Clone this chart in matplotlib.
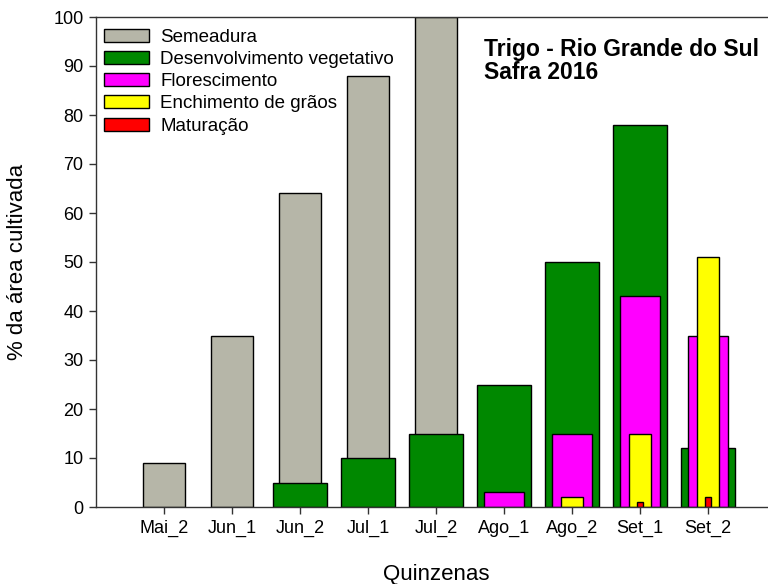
import numpy as np
import matplotlib.pyplot as plt
from matplotlib.patches import Patch

plt.rcParams['font.family'] = ['Liberation Sans', 'DejaVu Sans']

quinzenas = ["Mai_2", "Jun_1", "Jun_2", "Jul_1", "Jul_2", "Ago_1", "Ago_2", "Set_1", "Set_2"]
semeadura = [9, 35, 64, 88, 100, 0, 0, 0, 0]
desenvolvimento = [0, 0, 5, 10, 15, 25, 50, 78, 12]
florescimento = [0, 0, 0, 0, 0, 3, 15, 43, 35]
enchimento = [0, 0, 0, 0, 0, 0, 2, 15, 51]
maturacao = [0, 0, 0, 0, 0, 0, 0, 1, 2]

series = [
    ("Semeadura", semeadura, "#b6b6a8", 0.61),
    ("Desenvolvimento vegetativo", desenvolvimento, "#008800", 0.8),
    ("Florescimento", florescimento, "#ff00ff", 0.6),
    ("Enchimento de grãos", enchimento, "#ffff00", 0.33),
    ("Maturação", maturacao, "#ff0000", 0.1),
]

fig = plt.figure(figsize=(7.68, 5.84), dpi=100)
# axes runs a bit past the right edge, like the cropped original
ax = fig.add_axes([96 / 768, 77 / 584, 680 / 768, 490 / 584])

x = np.arange(1, len(quinzenas) + 1)
for label, vals, color, width in series:
    vals = np.array(vals, dtype=float)
    mask = vals > 0
    ax.bar(x[mask], vals[mask], width=width, color=color, edgecolor="black",
           linewidth=1.0, zorder=2)

ax.set_xlim(0, 10)
ax.set_ylim(0, 100)
ax.set_xticks(x)
ax.set_xticklabels(quinzenas)
ax.set_yticks(np.arange(0, 101, 10))
ax.tick_params(axis="both", direction="out", length=5, width=1, labelsize=13,
               color="#333333", pad=4)
for s in ax.spines.values():
    s.set_linewidth(1)
    s.set_color("#333333")

ax.set_xlabel("Quinzenas", fontsize=16, labelpad=20)
ax.set_ylabel("% da área cultivada", fontsize=16)
ax.yaxis.set_label_coords(-0.10, 0.5)

handles = [Patch(facecolor=c, edgecolor="black", linewidth=1) for _, _, c, _ in series]
labels = [l for l, _, _, _ in series]
ax.legend(handles, labels, loc="upper left", frameon=False, fontsize=13.5,
          handlelength=2.4, handleheight=0.7, labelspacing=0.27,
          handletextpad=0.6, borderpad=0, borderaxespad=0,
          bbox_to_anchor=(0.012, 0.976))

ax.text(0.571, 0.958, "Trigo - Rio Grande do Sul\nSafra 2016", transform=ax.transAxes,
        fontsize=16.5, fontweight="bold", va="top", ha="left", linespacing=1.05)

fig.savefig("out.png", dpi=100)
